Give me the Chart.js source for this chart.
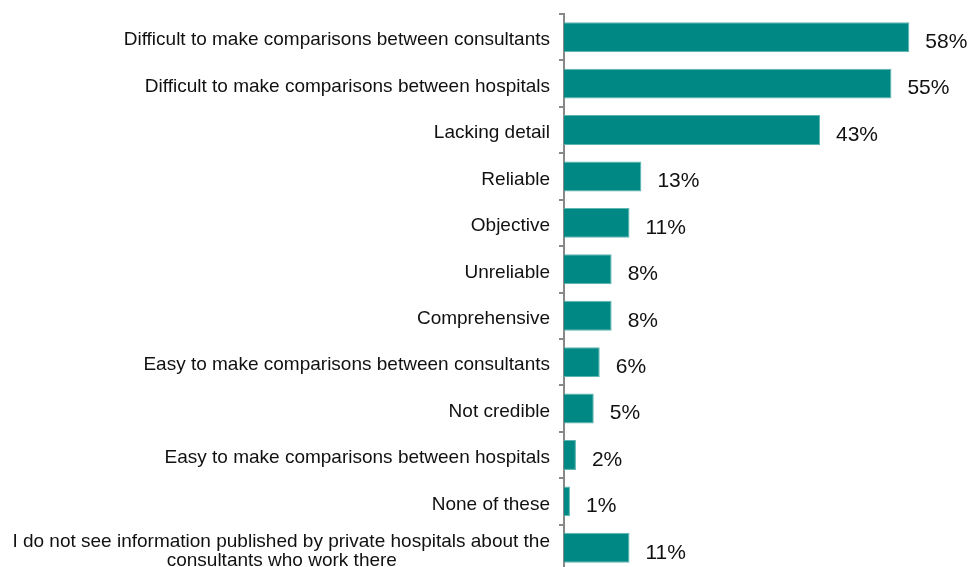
<!DOCTYPE html>
<html>
<head>
<meta charset="utf-8">
<script src="https://cdn.jsdelivr.net/npm/chart.js@4"></script>
<style>
  html, body { margin: 0; padding: 0; background: #fff; overflow: hidden; }
  #wrap { width: 973px; height: 571px; }
</style>
</head>
<body>
<div id="wrap"><canvas id="myChart" width="973" height="571"></canvas></div>
<script>
// categories, top to bottom
var labels = [
  'Difficult to make comparisons between consultants',
  'Difficult to make comparisons between hospitals',
  'Lacking detail',
  'Reliable',
  'Objective',
  'Unreliable',
  'Comprehensive',
  'Easy to make comparisons between consultants',
  'Not credible',
  'Easy to make comparisons between hospitals',
  'None of these',
  ['I do not see information published by private hospitals about the', 'consultants who work there']
];

// percent of respondents
var values = [58, 55, 43, 13, 11, 8, 8, 6, 5, 2, 1, 11];

var labelFont = '19px "Liberation Sans", Arial, sans-serif';

// centre the shorter lines of a wrapped label under the longest one
var measureCtx = document.createElement('canvas').getContext('2d');
measureCtx.font = labelFont;
function centerLines(lines) {
  if (!Array.isArray(lines)) return lines;
  var widths = lines.map(function(l) { return measureCtx.measureText(l).width; });
  var maxW = Math.max.apply(null, widths);
  var sp = measureCtx.measureText('\u00a0').width;
  return lines.map(function(l, i) {
    var n = Math.round((maxW - widths[i]) / 2 / sp);
    return l + '\u00a0'.repeat(n);
  });
}

// value labels next to each bar
var valueLabels = {
  id: 'valueLabels',
  afterDatasetsDraw: function(chart) {
    var ctx = chart.ctx;
    var meta = chart.getDatasetMeta(0);
    ctx.save();
    ctx.font = '21px "Liberation Sans", Arial, sans-serif';
    ctx.fillStyle = '#111';
    ctx.textAlign = 'left';
    ctx.textBaseline = 'middle';
    meta.data.forEach(function(bar, i) {
      ctx.fillText(values[i] + '%', bar.x + 16, bar.y + 5);
    });
    ctx.restore();
  }
};

var graph = document.getElementById('myChart');

var myChart = new Chart(graph, {
  type: 'bar',
  data: {
    labels: labels,
    datasets: [{
      data: values,
      backgroundColor: '#008984',
      borderColor: '#5fb5b0',
      borderWidth: 1,
      categoryPercentage: 1,
      barPercentage: 0.646
    }]
  },
  options: {
    indexAxis: 'y',
    responsive: false,
    animation: false,
    layout: { padding: { top: 14, bottom: 0, left: 0, right: 0 } },
    plugins: {
      legend: { display: false },
      tooltip: { enabled: false }
    },
    scales: {
      x: {
        display: false,
        min: 0,
        max: 68.7
      },
      y: {
        // fixed label column, no extra room for half labels
        afterFit: function(scale) {
          scale.width = 564;
          scale.paddingTop = 0;
          scale.paddingBottom = 0;
        },
        grid: {
          offset: true,
          drawOnChartArea: false,
          tickLength: 5,
          color: '#888',
          lineWidth: 2
        },
        border: { display: true, color: '#888', width: 2 },
        ticks: {
          color: '#111',
          padding: 9,
          labelOffset: 3,
          font: { family: '"Liberation Sans", Arial, sans-serif', size: 19, lineHeight: 1.0 },
          callback: function(value, index) {
            return centerLines(labels[index]);
          }
        }
      }
    }
  },
  plugins: [valueLabels]
});
</script>
</body>
</html>
